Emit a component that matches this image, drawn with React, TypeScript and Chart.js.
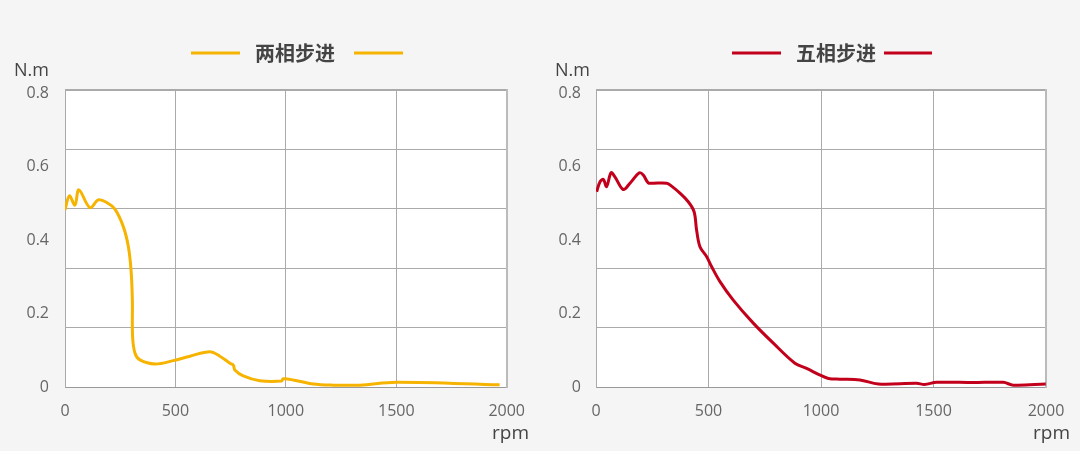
import React, { useEffect, useRef } from "react";
import { Chart, registerables } from "chart.js";

Chart.register(...registerables);

// ---- Data ----
const twoPhaseRpm = [0, 20, 45, 63, 113, 151, 189, 226, 264, 287, 299, 305, 306, 317, 339, 407, 490, 566, 656, 701, 747, 762, 769, 807, 882, 980, 988, 1033, 1124, 1214, 1335, 1500, 1968];
const twoPhaseTorque = [0.477, 0.515, 0.49, 0.531, 0.483, 0.504, 0.497, 0.479, 0.432, 0.378, 0.315, 0.234, 0.136, 0.091, 0.073, 0.062, 0.071, 0.083, 0.095, 0.083, 0.064, 0.059, 0.046, 0.03, 0.017, 0.016, 0.022, 0.019, 0.008, 0.005, 0.005, 0.013, 0.006];

const fivePhaseRpm = [3, 18, 33, 47, 67, 84, 121, 151, 193, 210, 232, 252, 314, 336, 373, 410, 436, 447, 462, 492, 514, 551, 610, 699, 788, 884, 936, 996, 1033, 1084, 1173, 1255, 1425, 1460, 1514, 1677, 1810, 1855, 1999];
const fivePhaseTorque = [0.526, 0.553, 0.559, 0.54, 0.577, 0.566, 0.532, 0.549, 0.577, 0.571, 0.55, 0.549, 0.549, 0.541, 0.522, 0.499, 0.472, 0.423, 0.378, 0.351, 0.324, 0.284, 0.234, 0.172, 0.118, 0.064, 0.05, 0.032, 0.023, 0.021, 0.019, 0.008, 0.01, 0.007, 0.0125, 0.012, 0.0125, 0.005, 0.008];

const xTickStep = 500;
const yLabelValues = [0, 0.2, 0.4, 0.6, 0.8];
const yGridValues = [0, 0.16, 0.32, 0.48, 0.64, 0.8];

const twoPhaseLabel = "两相步进";
const fivePhaseLabel = "五相步进";
const yUnit = "N.m";
const xUnit = "rpm";

const FONT = "'Open Sans', 'Noto Sans', 'Noto Sans CJK SC', sans-serif";
const CJK_FONT = "'Noto Sans CJK SC', 'Noto Sans', sans-serif";

interface PanelCfg {
  title: string;
  color: string;
  rpm: number[];
  torque: number[];
  yAxisWidth: number;
  padRight: number;
  labelPad: number;
  lineL: [number, number];
  textL: number;
  lineR: [number, number];
  nmX: number;
  rpmRight: number;
}

function makeDecorPlugin(cfg: PanelCfg) {
  return {
    id: "decor",
    afterDraw(chart: any) {
      const ctx = chart.ctx;
      ctx.save();
      ctx.strokeStyle = cfg.color;
      ctx.lineWidth = 3;
      ctx.beginPath();
      ctx.moveTo(cfg.lineL[0], 53);
      ctx.lineTo(cfg.lineL[1], 53);
      ctx.moveTo(cfg.lineR[0], 53);
      ctx.lineTo(cfg.lineR[1], 53);
      ctx.stroke();
      ctx.fillStyle = "#444";
      ctx.font = `600 20px ${CJK_FONT}`;
      ctx.textAlign = "left";
      ctx.textBaseline = "middle";
      ctx.fillText(cfg.title, cfg.textL, 53);
      ctx.font = `18px ${FONT}`;
      ctx.fillStyle = "#444";
      ctx.fillText(yUnit, cfg.nmX, 71);
      ctx.textAlign = "right";
      ctx.font = `19px ${FONT}`;
      ctx.fillText(xUnit, cfg.rpmRight, 434);
      ctx.restore();
    },
  };
}

function Panel({ cfg }: { cfg: PanelCfg }) {
  const ref = useRef<HTMLCanvasElement>(null);
  useEffect(() => {
    if (!ref.current) return;
    const bgPlugin = {
      id: "plotBg",
      beforeDraw(chart: any) {
        const { ctx, chartArea } = chart;
        ctx.save();
        ctx.fillStyle = "#ffffff";
        ctx.fillRect(chartArea.left, chartArea.top, chartArea.right - chartArea.left, chartArea.bottom - chartArea.top);
        ctx.restore();
      },
    };
    const chart = new Chart(ref.current, {
      type: "line",
      data: {
        datasets: [
          {
            label: cfg.title,
            data: cfg.rpm.map((x, i) => ({ x, y: cfg.torque[i] })),
            borderColor: cfg.color,
            borderWidth: 3,
            pointRadius: 0,
            tension: 0.35,
            fill: false,
            yAxisID: "yg",
          },
        ],
      },
      options: {
        responsive: false,
        animation: false,
        layout: { padding: { top: 90, right: cfg.padRight, left: 0, bottom: 0 } },
        plugins: { legend: { display: false }, tooltip: { enabled: false }, title: { display: false } },
        scales: {
          x: {
            type: "linear",
            min: 0,
            max: 2000,
            afterFit: (s: any) => { s.height = 64; },
            ticks: {
              stepSize: xTickStep,
              color: "#666",
              font: { family: FONT, size: 16 },
              padding: 15,
              maxRotation: 0,
              callback: (v: any) => String(v),
            },
            grid: { color: "#aaa", lineWidth: 1, drawTicks: false },
            border: { color: "#999", width: 1 },
          },
          y: {
            type: "linear",
            position: "left",
            min: 0,
            max: 0.808,
            afterFit: (s: any) => { s.width = cfg.yAxisWidth; },
            afterBuildTicks: (s: any) => { s.ticks = yLabelValues.map((v) => ({ value: v })); },
            ticks: { color: "#666", font: { family: FONT, size: 16 }, padding: cfg.labelPad, callback: (v: any) => String(v) },
            grid: { display: false, drawTicks: false },
            border: { color: "#aaa", width: 1 },
          },
          yg: {
            type: "linear",
            position: "right",
            min: 0,
            max: 0.8,
            afterFit: (s: any) => { s.width = 0; },
            afterBuildTicks: (s: any) => { s.ticks = yGridValues.map((v) => ({ value: v })); },
            ticks: { display: false },
            grid: { color: "#aaa", lineWidth: (c: any) => (c.tick && c.tick.value === 0.8 ? 2 : 1), drawTicks: false },
            border: { color: "#bbb", width: 2 },
          },
        },
      } as any,
      plugins: [bgPlugin, makeDecorPlugin(cfg)],
    });
    return () => chart.destroy();
  }, [cfg]);
  return <canvas ref={ref} width={540} height={451} style={{ display: "block", width: 540, height: 451 }} />;
}

const leftCfg: PanelCfg = {
  title: twoPhaseLabel,
  color: "#f6b300",
  rpm: twoPhaseRpm,
  torque: twoPhaseTorque,
  yAxisWidth: 65,
  padRight: 33,
  labelPad: 16,
  lineL: [191, 240],
  textL: 255,
  lineR: [354, 403],
  nmX: 14,
  rpmRight: 529,
};

const rightCfg: PanelCfg = {
  title: fivePhaseLabel,
  color: "#c3001b",
  rpm: fivePhaseRpm,
  torque: fivePhaseTorque,
  yAxisWidth: 56,
  padRight: 34,
  labelPad: 15,
  lineL: [192, 241],
  textL: 256,
  lineR: [344, 392],
  nmX: 15,
  rpmRight: 530,
};

export default function App() {
  return (
    <div style={{ position: "fixed", left: 0, top: 0, width: 1080, height: 451, background: "#f5f5f5", display: "flex" }}>
      <Panel cfg={leftCfg} />
      <Panel cfg={rightCfg} />
    </div>
  );
}
